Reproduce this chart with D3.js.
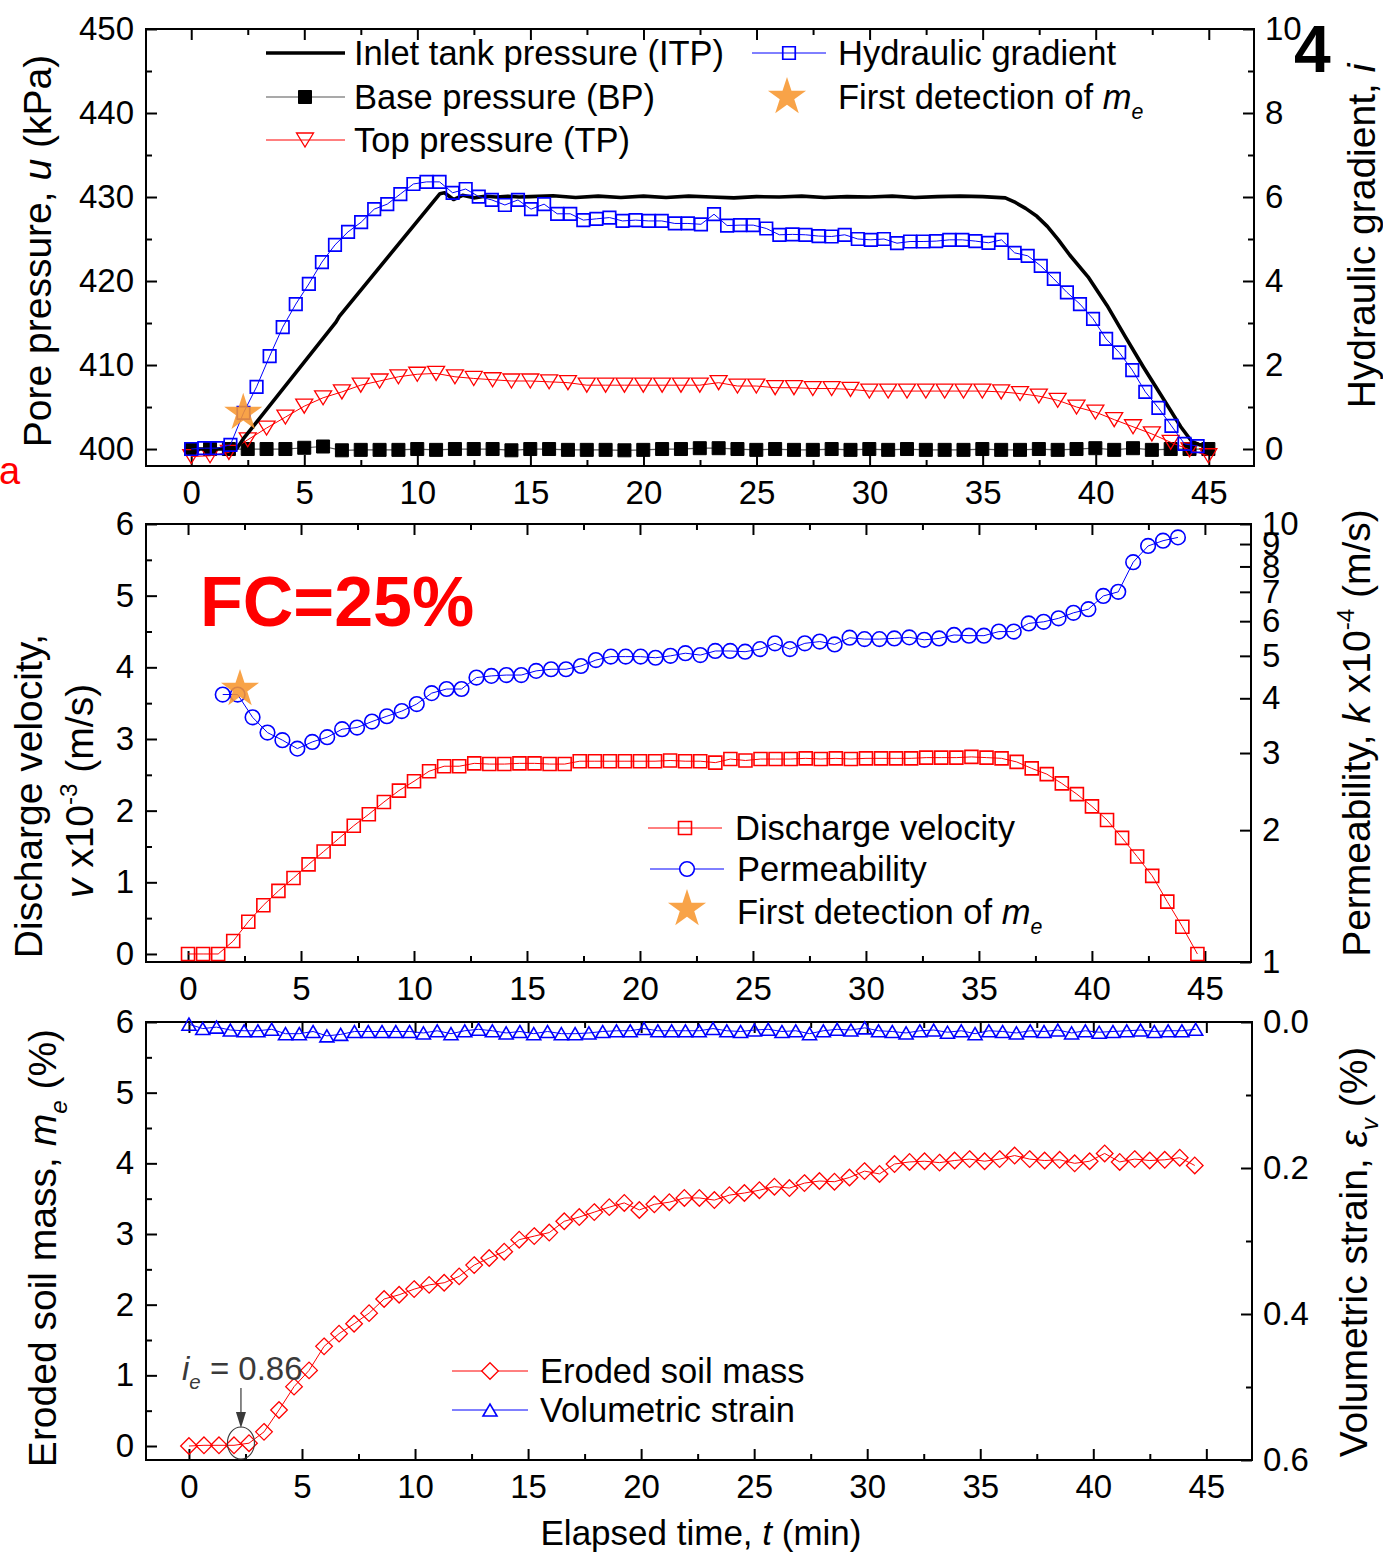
<!DOCTYPE html>
<html lang="en">
<head>
<meta charset="utf-8">
<title>Seepage erosion test, FC=25%</title>
<script src="https://cdn.jsdelivr.net/npm/d3@7/dist/d3.min.js"></script>
<style>
  html, body { margin: 0; padding: 0; background: #fff; }
  svg { display: block; }
</style>
</head>
<body>
<svg id="chart" width="1383" height="1567"></svg>
<script>
// ---------------- data ----------------
// Panel (a): pressures (kPa) and hydraulic gradient
const gradientStepMin = 0.578;           // logging interval of the gradient series (min)
const hydraulicGradient = [
  0.00, 0.02, 0.02, 0.10, 0.86, 1.48, 2.21, 2.90, 3.45, 3.93,
  4.45, 4.86, 5.17, 5.40, 5.71, 5.83, 6.07, 6.31, 6.36, 6.36,
  6.10, 6.19, 6.01, 5.93, 5.81, 5.93, 5.71, 5.83, 5.60, 5.60,
  5.45, 5.48, 5.51, 5.43, 5.45, 5.43, 5.43, 5.37, 5.37, 5.35,
  5.59, 5.32, 5.33, 5.33, 5.25, 5.10, 5.11, 5.10, 5.07, 5.06,
  5.10, 5.00, 4.98, 5.00, 4.90, 4.94, 4.94, 4.95, 4.98, 4.98,
  4.95, 4.91, 4.98, 4.67, 4.60, 4.36, 4.05, 3.73, 3.45, 3.10,
  2.62, 2.30, 1.88, 1.36, 0.98, 0.55, 0.12, 0.07
];

const pressureStepMin = 0.833;           // logging interval of BP / TP (min)
const basePressure = [
  400.0, 400.0, 400.0, 400.0, 400.0, 400.0, 400.15, 400.3, 399.85, 399.9,
  399.9, 399.9, 400.0, 399.9, 400.0, 400.0, 400.0, 399.85, 400.0, 400.0,
  399.9, 399.9, 399.9, 399.85, 399.9, 400.0, 400.0, 400.1, 400.1, 400.0,
  399.9, 400.0, 399.9, 399.9, 400.0, 399.9, 400.0, 399.9, 400.0, 399.9,
  399.9, 399.9, 400.0, 399.9, 399.9, 400.0, 399.9, 400.0, 400.1, 399.9,
  400.1, 399.9, 400.0, 400.0, 400.0
];
const topPressure = [
  399.1, 399.2, 399.6, 401.1, 402.5, 403.8, 405.1, 406.1, 406.8, 407.6,
  408.1, 408.6, 408.9, 409.0, 408.6, 408.4, 408.25, 408.1, 408.1, 408.0,
  407.9, 407.6, 407.6, 407.6, 407.6, 407.6, 407.6, 407.6, 407.9, 407.5,
  407.5, 407.3, 407.3, 407.2, 407.2, 407.1, 406.9, 406.9, 406.9, 406.9,
  406.9, 406.9, 406.9, 406.8, 406.6, 406.3, 405.8, 405.0, 404.4, 403.5,
  402.65, 401.8, 400.8, 399.9, 399.2
];

const itpTime = [
  0, 2.0, 2.3, 6.4, 6.55, 11.0, 11.2, 11.6, 12.0, 12.5, 13.0, 13.5, 14.0,
  14.5, 15, 16, 17, 18, 19, 20, 21, 22, 23, 24, 25, 26, 27, 28, 29, 30, 31, 32, 33,
  34, 35, 36.0, 36.45, 36.9, 37.4, 37.86, 38.35, 38.85, 39.66, 40.5, 41.3, 42.1, 42.94,
  43.76, 44.25, 44.6, 45.2
];
const itpPressure = [
  400.0, 400.0, 401.2, 415.1, 415.8, 430.4, 430.5, 429.7, 430.2, 429.9, 430.1, 430.0, 430.1,
  430.0, 430.05, 430.15, 429.95, 430.1, 429.95, 430.1, 429.95, 430.1, 430.0, 429.9, 430.05, 430.0, 430.1, 429.95, 430.05, 430.0, 430.1, 429.95, 430.05,
  430.1, 430.05, 429.9, 429.35, 428.65, 427.7, 426.5, 424.9, 423.1, 420.5, 417.1, 413.4, 409.8, 406.2,
  402.65, 400.9, 400.5, 400.5
];

// Panel (b): discharge velocity (x10^-3 m/s) and permeability (x10^-4 m/s)
const velocityStepMin = 0.6667;
const dischargeVelocity = [
  0.00, 0.00, 0.00, 0.18, 0.45, 0.68, 0.88, 1.06, 1.25, 1.43,
  1.61, 1.79, 1.95, 2.12, 2.28, 2.41, 2.55, 2.62, 2.62, 2.66,
  2.65, 2.65, 2.66, 2.66, 2.65, 2.65, 2.69, 2.69, 2.69, 2.69,
  2.69, 2.69, 2.70, 2.69, 2.69, 2.67, 2.72, 2.70, 2.72, 2.72,
  2.72, 2.73, 2.72, 2.73, 2.72, 2.73, 2.73, 2.73, 2.73, 2.74,
  2.74, 2.74, 2.75, 2.74, 2.73, 2.68, 2.59, 2.51, 2.38, 2.23,
  2.06, 1.87, 1.62, 1.36, 1.09, 0.73, 0.38, 0.00
];
const permStartMin = 1.535;
const permStepMin = 0.6605;
const permeability = [
  4.08, 4.08, 3.62, 3.34, 3.21, 3.07, 3.18, 3.26, 3.40, 3.43,
  3.54, 3.64, 3.74, 3.88, 4.11, 4.20, 4.20, 4.46, 4.50, 4.52,
  4.52, 4.62, 4.66, 4.66, 4.74, 4.89, 4.98, 4.98, 4.98, 4.95,
  5.00, 5.07, 5.02, 5.13, 5.13, 5.11, 5.18, 5.34, 5.18, 5.34,
  5.39, 5.31, 5.50, 5.46, 5.46, 5.48, 5.51, 5.44, 5.48, 5.58,
  5.56, 5.56, 5.68, 5.68, 5.93, 5.98, 6.09, 6.27, 6.39, 6.85,
  7.00, 8.18, 8.91, 9.16, 9.32
];

// Panel (c): eroded soil mass (%) and volumetric strain (%)
const erodedStepMin = 0.664;
const erodedMass = [
  0.00, 0.01, 0.01, 0.01, 0.04, 0.20, 0.51, 0.84, 1.07, 1.41,
  1.59, 1.73, 1.88, 2.08, 2.14, 2.22, 2.28, 2.31, 2.40, 2.56,
  2.66, 2.75, 2.92, 2.97, 3.02, 3.18, 3.24, 3.31, 3.38, 3.44,
  3.34, 3.42, 3.45, 3.51, 3.51, 3.48, 3.55, 3.58, 3.62, 3.67,
  3.65, 3.72, 3.75, 3.74, 3.80, 3.89, 3.85, 3.99, 4.02, 4.03,
  4.01, 4.04, 4.06, 4.03, 4.06, 4.11, 4.06, 4.04, 4.05, 4.00,
  4.03, 4.14, 4.02, 4.06, 4.04, 4.05, 4.08, 3.97
];
const strainStepMin = 0.61;
const volumetricStrain = [
  0.003, 0.009, 0.007, 0.011, 0.012, 0.012, 0.010, 0.016, 0.016, 0.013,
  0.019, 0.017, 0.013, 0.013, 0.013, 0.013, 0.013, 0.015, 0.012, 0.016,
  0.012, 0.010, 0.012, 0.015, 0.013, 0.016, 0.013, 0.016, 0.016, 0.015,
  0.013, 0.012, 0.012, 0.009, 0.012, 0.012, 0.012, 0.012, 0.009, 0.012,
  0.013, 0.011, 0.010, 0.013, 0.012, 0.016, 0.012, 0.010, 0.011, 0.008,
  0.012, 0.013, 0.015, 0.012, 0.011, 0.014, 0.012, 0.016, 0.012, 0.013,
  0.015, 0.012, 0.013, 0.011, 0.015, 0.012, 0.014, 0.013, 0.012, 0.011,
  0.013, 0.012, 0.012, 0.010
];

// First detection of eroded mass
const firstDetectionMin = 2.3;
const firstDetectionGradient = 0.86;
const firstDetectionPerm = 4.2;

// Tick values
const timeTicks = [0, 5, 10, 15, 20, 25, 30, 35, 40, 45];
const timeMinorTicks = [2.5, 7.5, 12.5, 17.5, 22.5, 27.5, 32.5, 37.5, 42.5];
const pressureTicks = [400, 410, 420, 430, 440, 450];
const pressureMinorTicks = [405, 415, 425, 435, 445];
const gradientTicks = [0, 2, 4, 6, 8, 10];
const gradientMinorTicks = [1, 3, 5, 7, 9];
const velocityTicks = [0, 1, 2, 3, 4, 5, 6];
const velocityMinorTicks = [0.5, 1.5, 2.5, 3.5, 4.5, 5.5];
const permTicks = [1, 2, 3, 4, 5, 6, 7, 8, 9, 10];
const erodedTicks = [0, 1, 2, 3, 4, 5, 6];
const erodedMinorTicks = [0.5, 1.5, 2.5, 3.5, 4.5, 5.5];
const strainTicks = [0, 0.2, 0.4, 0.6];
const strainMinorTicks = [0.1, 0.3, 0.5];

// ---------------- drawing ----------------
const FONT = '"Liberation Sans", Arial, Helvetica, sans-serif';
const TICK_FS = 33, LEGEND_FS = 34.5, TITLE_FS = 39;
const BLUE = "#0000ff", RED = "#ff0000", STAR = "#f7962f";

const svg = d3.select("#chart").style("font-family", FONT);
svg.append("rect").attr("width", 1383).attr("height", 1567).attr("fill", "#fff");

const frames = {
  a: { left: 146, right: 1254, top: 29, bottom: 466 },
  b: { left: 146, right: 1251, top: 524, bottom: 962 },
  c: { left: 146, right: 1252, top: 1022, bottom: 1460 }
};

const xA = d3.scaleLinear([-2, 47], [frames.a.left, frames.a.right]);
const xB = d3.scaleLinear([-1.86, 47.04], [frames.b.left, frames.b.right]);
const xC = d3.scaleLinear([-1.9, 47.02], [frames.c.left, frames.c.right]);

const yPressure = d3.scaleLinear([397.98, 450], [frames.a.bottom, frames.a.top]);
const yGradient = d3.scaleLinear([-0.405, 10], [frames.a.bottom, frames.a.top]);
const yVelocity = d3.scaleLinear([-0.112, 6], [frames.b.bottom, frames.b.top]);
const yPerm = d3.scaleLog([1, 10], [frames.b.bottom, frames.b.top]);
const yEroded = d3.scaleLinear([-0.198, 6], [frames.c.bottom, frames.c.top]);
const yStrain = d3.scaleLinear([0, 0.6], [frames.c.top, frames.c.bottom]);

function styleAxis(g) {
  g.select(".domain").remove();
  g.selectAll("line").attr("stroke", "#000").attr("stroke-width", 2);
  g.selectAll("text").attr("font-size", TICK_FS).attr("fill", "#000").attr("font-family", FONT);
}

function drawAxes(f, x, left, right) {
  const g = svg.append("g");
  const add = (tr, axis) => g.append("g").attr("transform", tr).call(axis).call(styleAxis);
  // time axis (bottom, labelled) and mirrored ticks on the top edge
  add(`translate(0,${f.bottom})`, d3.axisBottom(x).tickValues(timeTicks).tickFormat(d3.format("d")).tickSize(-11).tickPadding(15));
  add(`translate(0,${f.bottom})`, d3.axisBottom(x).tickValues(timeMinorTicks).tickFormat("").tickSize(-6));
  add(`translate(0,${f.top})`, d3.axisTop(x).tickValues(timeTicks).tickFormat("").tickSize(-11));
  add(`translate(0,${f.top})`, d3.axisTop(x).tickValues(timeMinorTicks).tickFormat("").tickSize(-6));
  // left value axis
  add(`translate(${f.left},0)`, d3.axisLeft(left.scale).tickValues(left.ticks).tickFormat(left.format).tickSize(-11).tickPadding(12));
  if (left.minor) add(`translate(${f.left},0)`, d3.axisLeft(left.scale).tickValues(left.minor).tickFormat("").tickSize(-6));
  // right value axis
  add(`translate(${f.right},0)`, d3.axisRight(right.scale).tickValues(right.ticks).tickFormat(right.format).tickSize(-11).tickPadding(11));
  if (right.minor) add(`translate(${f.right},0)`, d3.axisRight(right.scale).tickValues(right.minor).tickFormat("").tickSize(-6));
  // frame
  g.append("rect")
    .attr("x", f.left).attr("y", f.top)
    .attr("width", f.right - f.left).attr("height", f.bottom - f.top)
    .attr("fill", "none").attr("stroke", "#000").attr("stroke-width", 2);
}

drawAxes(frames.a, xA,
  { scale: yPressure, ticks: pressureTicks, minor: pressureMinorTicks, format: d3.format("d") },
  { scale: yGradient, ticks: gradientTicks, minor: gradientMinorTicks, format: d3.format("d") });
drawAxes(frames.b, xB,
  { scale: yVelocity, ticks: velocityTicks, minor: velocityMinorTicks, format: d3.format("d") },
  { scale: yPerm, ticks: permTicks, minor: null, format: d3.format("d") });
drawAxes(frames.c, xC,
  { scale: yEroded, ticks: erodedTicks, minor: erodedMinorTicks, format: d3.format("d") },
  { scale: yStrain, ticks: strainTicks, minor: strainMinorTicks, format: d3.format(".1f") });

// ----- marker shapes -----
const squarePath = s => `M${-s / 2},${-s / 2}h${s}v${s}h${-s}Z`;
const triDownPath = (w, h) => `M${-w / 2},${-h / 2}L${w / 2},${-h / 2}L0,${h / 2}Z`;
const triUpPath = (w, h) => `M${-w / 2},${h / 2}L${w / 2},${h / 2}L0,${-h / 2}Z`;
const diamondPath = r => `M0,${-r}L${r},0L0,${r}L${-r},0Z`;
const starPath = d3.symbol(d3.symbolStar, 450)();

function series(points, x, y, opt) {
  const g = svg.append("g");
  g.append("path")
    .attr("d", d3.line().x(d => x(d[0])).y(d => y(d[1]))(points))
    .attr("fill", "none").attr("stroke", opt.line).attr("stroke-width", opt.lineWidth || 1.2)
    .attr("stroke-linejoin", "round");
  if (opt.marker) {
    g.selectAll("path.m").data(points).join("path").attr("class", "m")
      .attr("transform", d => `translate(${x(d[0])},${y(d[1])})`)
      .attr("d", opt.marker)
      .attr("fill", opt.fill || "none")
      .attr("stroke", opt.stroke).attr("stroke-width", opt.strokeWidth || 1.6);
  }
  if (opt.circle) {
    g.selectAll("circle").data(points).join("circle")
      .attr("cx", d => x(d[0])).attr("cy", d => y(d[1])).attr("r", opt.circle)
      .attr("fill", "none").attr("stroke", opt.stroke).attr("stroke-width", opt.strokeWidth || 1.6);
  }
}

const star = (x, y) => svg.append("path").attr("d", starPath)
  .attr("transform", `translate(${x},${y})`).attr("fill", STAR).attr("fill-opacity", 0.88);

// ----- panel (a) -----
series(basePressure.map((v, k) => [k * pressureStepMin, v]), xA, yPressure,
  { line: "#555", lineWidth: 1.2, marker: squarePath(13), fill: "#000", stroke: "#000", strokeWidth: 1 });
series(topPressure.map((v, k) => [k * pressureStepMin, v]), xA, yPressure,
  { line: RED, lineWidth: 1, marker: triDownPath(17, 14), stroke: RED, strokeWidth: 1.3 });
series(itpTime.map((t, k) => [t, itpPressure[k]]), xA, yPressure,
  { line: "#000", lineWidth: 3.6 });
series(hydraulicGradient.map((v, k) => [k * gradientStepMin, v]), xA, yGradient,
  { line: BLUE, lineWidth: 1, marker: squarePath(12.5), stroke: BLUE, strokeWidth: 1.7 });
star(xA(firstDetectionMin), yGradient(firstDetectionGradient));

// ----- panel (b) -----
series(dischargeVelocity.map((v, k) => [k * velocityStepMin, v]), xB, yVelocity,
  { line: RED, lineWidth: 1, marker: squarePath(13), stroke: RED, strokeWidth: 1.6 });
series(permeability.map((v, k) => [permStartMin + k * permStepMin, v]), xB, yPerm,
  { line: BLUE, lineWidth: 1, circle: 7.3, stroke: BLUE, strokeWidth: 1.6 });
star(xB(firstDetectionMin), yPerm(firstDetectionPerm));

// ----- panel (c) -----
series(volumetricStrain.map((v, k) => [k * strainStepMin, v]), xC, yStrain,
  { line: BLUE, lineWidth: 1, marker: triUpPath(14, 12), stroke: BLUE, strokeWidth: 1.6 });
series(erodedMass.map((v, k) => [k * erodedStepMin, v]), xC, yEroded,
  { line: RED, lineWidth: 1, marker: diamondPath(8.3), stroke: RED, strokeWidth: 1.3 });

// ----- rich text helper (italic, sub/superscripts) -----
function rich(sel, parts, fs) {
  let cur = 0;
  parts.forEach(p => {
    const ts = sel.append("tspan").text(p.t);
    if (p.i) ts.attr("font-style", "italic");
    const off = p.sub ? 0.28 * fs : p.sup ? -0.42 * fs : 0;
    if (off !== cur) ts.attr("dy", off - cur);
    if (p.sub || p.sup) ts.attr("font-size", 0.62 * fs);
    cur = off;
  });
  return sel;
}
function text(x, y, fs, parts, opts = {}) {
  const t = svg.append("text").attr("x", x).attr("y", y).attr("font-size", fs)
    .attr("fill", opts.fill || "#000").attr("font-family", FONT);
  if (opts.anchor) t.attr("text-anchor", opts.anchor);
  if (opts.weight) t.attr("font-weight", opts.weight);
  if (opts.rotate) t.attr("transform", `rotate(-90,${x},${y})`);
  return rich(t, typeof parts === "string" ? [{ t: parts }] : parts, fs);
}

// ----- legends -----
function legendLine(x1, x2, y, color, width) {
  svg.append("line").attr("x1", x1).attr("x2", x2).attr("y1", y).attr("y2", y)
    .attr("stroke", color).attr("stroke-width", width);
}
function legendMarker(x, y, d, fill, stroke, sw) {
  svg.append("path").attr("d", d).attr("transform", `translate(${x},${y})`)
    .attr("fill", fill).attr("stroke", stroke).attr("stroke-width", sw);
}

// panel (a) legend
legendLine(266, 345, 53, "#000", 3.6);
text(354, 65, LEGEND_FS, "Inlet tank pressure (ITP)");
legendLine(266, 345, 97, "#555", 1.2);
legendMarker(305, 97, squarePath(13), "#000", "#000", 1);
text(354, 109, LEGEND_FS, "Base pressure (BP)");
legendLine(266, 345, 140, RED, 1);
legendMarker(305, 140, triDownPath(17, 14), "none", RED, 1.3);
text(354, 152, LEGEND_FS, "Top pressure (TP)");
legendLine(752, 826, 53, BLUE, 1);
legendMarker(789, 53, squarePath(12.5), "none", BLUE, 1.7);
text(838, 65, LEGEND_FS, "Hydraulic gradient");
star(787, 97);
text(838, 109, LEGEND_FS, [{ t: "First detection of " }, { t: "m", i: true }, { t: "e", i: true, sub: true }]);

// panel (b) legend
legendLine(648, 722, 828, RED, 1);
legendMarker(685, 828, squarePath(13), "none", RED, 1.6);
text(735, 840, LEGEND_FS, "Discharge velocity");
legendLine(650, 724, 869, BLUE, 1);
svg.append("circle").attr("cx", 687).attr("cy", 869).attr("r", 7.3)
  .attr("fill", "#fff").attr("stroke", BLUE).attr("stroke-width", 1.6);
text(737, 881, LEGEND_FS, "Permeability");
star(687, 909);
text(737, 924, LEGEND_FS, [{ t: "First detection of " }, { t: "m", i: true }, { t: "e", i: true, sub: true }]);

// panel (c) legend
legendLine(452, 528, 1371, RED, 1);
legendMarker(490, 1371, diamondPath(8.3), "#fff", RED, 1.3);
text(540, 1383, LEGEND_FS, "Eroded soil mass");
legendLine(452, 528, 1410, BLUE, 1);
legendMarker(490, 1410, triUpPath(14, 12), "#fff", BLUE, 1.6);
text(540, 1422, LEGEND_FS, "Volumetric strain");

// ----- axis titles -----
text(51, 251, TITLE_FS, [{ t: "Pore pressure, " }, { t: "u", i: true }, { t: " (kPa)" }], { anchor: "middle", rotate: true });
text(1375, 236, TITLE_FS, [{ t: "Hydraulic gradient, " }, { t: "i", i: true }], { anchor: "middle", rotate: true });
text(42, 796, TITLE_FS, "Discharge velocity,", { anchor: "middle", rotate: true });
text(93, 791, TITLE_FS, [{ t: "v", i: true }, { t: " x10" }, { t: "-3", sup: true }, { t: " (m/s)" }], { anchor: "middle", rotate: true });
text(1370, 733, TITLE_FS, [{ t: "Permeability, " }, { t: "k", i: true }, { t: " x10" }, { t: "-4", sup: true }, { t: " (m/s)" }], { anchor: "middle", rotate: true });
text(56, 1248, TITLE_FS, [{ t: "Eroded soil mass, " }, { t: "m", i: true }, { t: "e", i: true, sub: true }, { t: " (%)" }], { anchor: "middle", rotate: true });
text(1367, 1252, TITLE_FS, [{ t: "Volumetric strain, " }, { t: "ε", i: true }, { t: "v", i: true, sub: true }, { t: " (%)" }], { anchor: "middle", rotate: true });
text(701, 1545, 35, [{ t: "Elapsed time, " }, { t: "t", i: true }, { t: " (min)" }], { anchor: "middle" });

// ----- annotations -----
text(-1, 484, 38, "a", { fill: RED });
text(1294, 72, 66, "4", { weight: "bold" });
text(200, 626, 70, "FC=25%", { fill: RED, weight: "bold" });

// onset of erosion marker in panel (c)
const onsetX = xC(firstDetectionMin), onsetY = yEroded(0);
text(182, 1380, 33, [{ t: "i", i: true }, { t: "e", i: true, sub: true }, { t: " = 0.86" }], { fill: "#3a3a3a" });
svg.append("line").attr("x1", onsetX).attr("x2", onsetX).attr("y1", 1388).attr("y2", 1414)
  .attr("stroke", "#3a3a3a").attr("stroke-width", 1.2);
svg.append("path").attr("d", `M${onsetX - 5},1412L${onsetX + 5},1412L${onsetX},1428Z`).attr("fill", "#3a3a3a");
svg.append("ellipse").attr("cx", onsetX).attr("cy", onsetY - 3).attr("rx", 13.5).attr("ry", 16)
  .attr("fill", "none").attr("stroke", "#3a3a3a").attr("stroke-width", 1.1);
</script>
</body>
</html>
